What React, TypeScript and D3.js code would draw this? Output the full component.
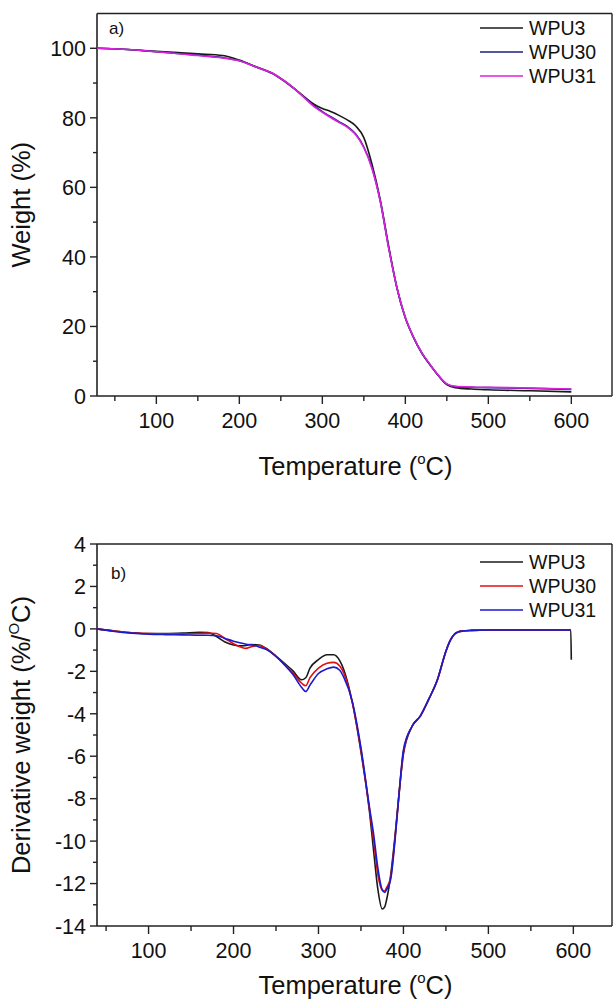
import React from 'react';
import * as d3 from 'd3';

// ---------- DATA ----------
const tgaTemp = [28.5, 60, 100, 150, 180, 200, 220, 240, 250, 260, 270, 280, 290, 300, 310, 320, 330, 340, 350, 360, 370, 380, 390, 400, 410, 420, 430, 440, 450, 460, 480, 500, 550, 600];
const tgaWPU3 = [100, 99.7, 99.1, 98.4, 97.9, 96.6, 94.7, 92.8, 91.3, 89.6, 87.7, 85.7, 83.9, 82.7, 81.8, 80.7, 79.4, 77.7, 74.3, 66.5, 56.2, 43.0, 31.0, 22.5, 16.8, 12.3, 8.9, 5.8, 3.3, 2.4, 2.0, 1.8, 1.5, 1.2];
const tgaWPU30 = [100, 99.7, 99.0, 98.0, 97.3, 96.4, 94.6, 92.7, 91.2, 89.5, 87.6, 85.5, 83.4, 81.8, 80.3, 78.9, 77.5, 75.4, 71.6, 65.5, 55.8, 42.5, 31.0, 22.5, 16.8, 12.3, 8.9, 5.8, 3.4, 2.7, 2.5, 2.4, 2.2, 1.9];
const tgaWPU31 = [100, 99.7, 99.0, 97.9, 97.2, 96.4, 94.6, 92.8, 91.3, 89.6, 87.6, 85.4, 83.2, 81.6, 80.1, 78.7, 77.3, 75.2, 71.4, 65.3, 55.8, 42.5, 31.0, 22.6, 16.9, 12.4, 9.0, 5.9, 3.5, 2.8, 2.6, 2.5, 2.3, 2.0];

const dtgTemp = [39, 60, 80, 100, 120, 140, 160, 170, 180, 190, 200, 210, 215, 220, 230, 240, 250, 260, 270, 280, 285, 290, 300, 310, 318, 325, 330, 340, 350, 360, 365, 370, 375, 378, 380, 385, 390, 395, 400, 410, 420, 430, 440, 450, 455, 460, 465, 470, 480, 500, 550, 597];
const dtgWPU3 = [0, -0.1, -0.18, -0.22, -0.22, -0.2, -0.16, -0.17, -0.36, -0.62, -0.76, -0.8, -0.78, -0.74, -0.76, -0.96, -1.28, -1.62, -1.98, -2.4, -2.3, -1.85, -1.45, -1.22, -1.22, -1.5, -1.95, -3.5, -5.8, -8.6, -10.5, -12.3, -13.2, -13.1, -12.8, -11.6, -9.8, -7.7, -5.9, -4.6, -4.1, -3.3, -2.4, -1.05, -0.55, -0.25, -0.14, -0.1, -0.07, -0.05, -0.05, -0.05];
const dtgWPU30 = [0, -0.1, -0.18, -0.22, -0.23, -0.23, -0.22, -0.2, -0.22, -0.45, -0.7, -0.88, -0.92, -0.85, -0.78, -0.98, -1.3, -1.68, -2.08, -2.55, -2.68, -2.3, -1.85, -1.62, -1.58, -1.75, -2.1, -3.5, -5.7, -8.5, -10.0, -11.6, -12.3, -12.35, -12.2, -11.7, -9.9, -7.7, -5.8, -4.6, -4.1, -3.3, -2.4, -1.05, -0.55, -0.25, -0.14, -0.1, -0.07, -0.05, -0.05, -0.05];
const dtgWPU31 = [0, -0.12, -0.2, -0.25, -0.27, -0.28, -0.3, -0.3, -0.32, -0.45, -0.58, -0.68, -0.72, -0.75, -0.85, -1.0, -1.3, -1.7, -2.15, -2.75, -2.95, -2.65, -2.1, -1.88, -1.8, -1.95, -2.3, -3.45, -5.6, -8.4, -9.7, -11.3, -12.3, -12.42, -12.3, -11.8, -10.0, -7.7, -5.7, -4.6, -4.1, -3.3, -2.4, -1.05, -0.55, -0.25, -0.14, -0.1, -0.07, -0.05, -0.05, -0.05];
const dtgWPU3EndTemp = [597.6];
const dtgWPU3EndValue = [-1.45];

const seriesNames = ['WPU3', 'WPU30', 'WPU31'];
const tgaColors = ['#1a1a1a', '#1c1c86', '#dd22dd'];
const dtgColors = ['#1a1a1a', '#e01010', '#1a1ad0'];

const xMajorTicks = [100, 200, 300, 400, 500, 600];
const xMinorTicks = [50, 150, 250, 350, 450, 550];
const tgaYMajor = [0, 20, 40, 60, 80, 100];
const tgaYMinor = [10, 30, 50, 70, 90];
const dtgYMajor = [4, 2, 0, -2, -4, -6, -8, -10, -12, -14];
const dtgYMinor = [3, 1, -1, -3, -5, -7, -9, -11, -13];

const FONT = "'Liberation Sans', Arial, Helvetica, sans-serif";

type Panel = {
  left: number; right: number; top: number; bottom: number;
  xDomain: [number, number]; yDomain: [number, number];
};

const topPanel: Panel = { left: 97, right: 612, top: 13.5, bottom: 396, xDomain: [28.5, 649], yDomain: [0, 110] };
const botPanel: Panel = { left: 97, right: 612, top: 544, bottom: 926, xDomain: [39.3, 645.5], yDomain: [-14, 4] };

function Axes({ p, x, y, yMajor, yMinor, xLabelY, xTickLabelY }: any) {
  return (
    <g>
      <line x1={p.left} x2={p.right} y1={p.top} y2={p.top} stroke="#222" strokeWidth={1.4} />
      <line x1={p.right} x2={p.right} y1={p.top} y2={p.bottom} stroke="#222" strokeWidth={1.4} />
      <line x1={p.left} x2={p.left} y1={p.top} y2={p.bottom} stroke="#222" strokeWidth={1.6} />
      <line x1={p.left} x2={p.right} y1={p.bottom} y2={p.bottom} stroke="#222" strokeWidth={1.6} />
      {xMajorTicks.map((t) => (
        <g key={'xm' + t}>
          <line x1={x(t)} x2={x(t)} y1={p.bottom} y2={p.bottom + 8} stroke="#222" strokeWidth={1.4} />
          <text x={x(t)} y={xTickLabelY} textAnchor="middle" fontSize={21.5} fontFamily={FONT} fill="#111">{t}</text>
        </g>
      ))}
      {xMinorTicks.map((t) => (
        <line key={'xn' + t} x1={x(t)} x2={x(t)} y1={p.bottom} y2={p.bottom + 5} stroke="#222" strokeWidth={1.4} />
      ))}
      {yMajor.map((t: number) => (
        <g key={'ym' + t}>
          <line x1={p.left - 7} x2={p.left} y1={y(t)} y2={y(t)} stroke="#222" strokeWidth={1.4} />
          <text x={p.left - 11} y={y(t)} dy="0.36em" textAnchor="end" fontSize={21.5} fontFamily={FONT} fill="#111">{t}</text>
        </g>
      ))}
      {yMinor.map((t: number) => (
        <line key={'yn' + t} x1={p.left - 4} x2={p.left} y1={y(t)} y2={y(t)} stroke="#222" strokeWidth={1.4} />
      ))}
      <text x={(p.left + p.right) / 2 + 1} y={xLabelY} textAnchor="middle" fontSize={25.5} fontFamily={FONT} fill="#111">
        Temperature (<tspan dy={-11} fontSize={15}>o</tspan><tspan dy={11}>C)</tspan>
      </text>
    </g>
  );
}

function Legend({ x0, y0, dy, colors }: any) {
  return (
    <g>
      {seriesNames.map((n, i) => (
        <g key={n}>
          <line x1={x0} x2={x0 + 43} y1={y0 + i * dy} y2={y0 + i * dy} stroke={colors[i]} strokeWidth={1.6} />
          <text x={x0 + 49} y={y0 + i * dy} dy="0.36em" fontSize={19.5} fontFamily={FONT} fill="#111">{n}</text>
        </g>
      ))}
    </g>
  );
}

export default function App() {
  const xT = d3.scaleLinear().domain(topPanel.xDomain).range([topPanel.left, topPanel.right]);
  const yT = d3.scaleLinear().domain(topPanel.yDomain).range([topPanel.bottom, topPanel.top]);
  const xB = d3.scaleLinear().domain(botPanel.xDomain).range([botPanel.left, botPanel.right]);
  const yB = d3.scaleLinear().domain(botPanel.yDomain).range([botPanel.bottom, botPanel.top]);

  const lineT = d3.line<[number, number]>().x((d) => xT(d[0])).y((d) => yT(d[1])).curve(d3.curveMonotoneX);
  const lineB = d3.line<[number, number]>().x((d) => xB(d[0])).y((d) => yB(d[1])).curve(d3.curveMonotoneX);

  const tgaSeries = [tgaWPU3, tgaWPU30, tgaWPU31].map((vals) => tgaTemp.map((t, i) => [t, vals[i]] as [number, number]));
  const dtgSeries = [dtgWPU3, dtgWPU30, dtgWPU31].map((vals) => dtgTemp.map((t, i) => [t, vals[i]] as [number, number]));
  dtgWPU3EndTemp.forEach((t, i) => dtgSeries[0].push([t, dtgWPU3EndValue[i]]));

  return (
    <svg width={613} height={1002} style={{ position: 'absolute', left: 0, top: 0, background: '#fff' }}>
      <rect x={0} y={0} width={613} height={1002} fill="#fff" />
      <Axes p={topPanel} x={xT} y={yT} yMajor={tgaYMajor} yMinor={tgaYMinor} xLabelY={475} xTickLabelY={428} />
      <g>
        {tgaSeries.map((s, i) => (
          <path key={i} d={lineT(s) || ''} fill="none" stroke={tgaColors[i]} strokeWidth={1.6} />
        ))}
      </g>
      <Legend x0={480} y0={28} dy={24} colors={tgaColors} />
      <text x={109} y={28} dy="0.36em" fontSize={17} fontFamily={FONT} fill="#111">a)</text>
      <text transform={`translate(30,${(topPanel.top + topPanel.bottom) / 2}) rotate(-90)`} textAnchor="middle" fontSize={25.5} fontFamily={FONT} fill="#111">Weight (%)</text>

      <Axes p={botPanel} x={xB} y={yB} yMajor={dtgYMajor} yMinor={dtgYMinor} xLabelY={994} xTickLabelY={958} />
      <g>
        {dtgSeries.map((s, i) => (
          <path key={i} d={lineB(s) || ''} fill="none" stroke={dtgColors[i]} strokeWidth={1.6} />
        ))}
      </g>
      <Legend x0={480} y0={562} dy={24} colors={dtgColors} />
      <text x={111} y={573} dy="0.36em" fontSize={17} fontFamily={FONT} fill="#111">b)</text>
      <text transform={`translate(30,${(botPanel.top + botPanel.bottom) / 2}) rotate(-90)`} textAnchor="middle" fontSize={25.5} fontFamily={FONT} fill="#111">
        Derivative weight (%/<tspan dy={-11} fontSize={15}>O</tspan><tspan dy={11}>C)</tspan>
      </text>
    </svg>
  );
}
